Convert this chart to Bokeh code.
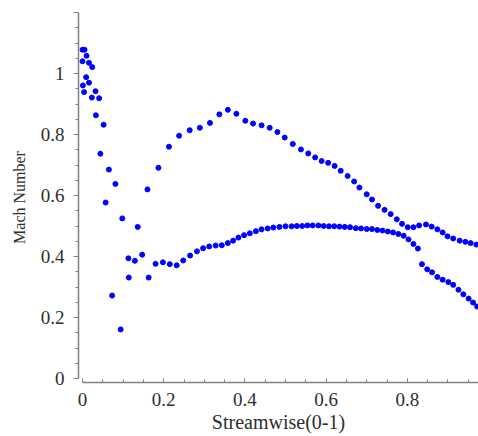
from bokeh.plotting import figure
from bokeh.models import Range1d, FixedTicker
from bokeh.embed import file_html
from bokeh.resources import INLINE

# Blade-surface Mach number along normalised streamwise position
surface_a_x = [0.000, 0.010, 0.016, 0.024, 0.016, 0.032, 0.041, 0.052, 0.065, 0.081,
               0.098, 0.136, 0.160, 0.187, 0.213, 0.238, 0.264, 0.289, 0.314, 0.337,
               0.358, 0.379, 0.401, 0.420, 0.441, 0.461, 0.480, 0.498, 0.518, 0.538,
               0.556, 0.573, 0.589, 0.605, 0.621, 0.636, 0.653, 0.669, 0.682, 0.700,
               0.713, 0.728, 0.744, 0.759, 0.774, 0.787, 0.801, 0.815, 0.829, 0.846,
               0.860, 0.874, 0.887, 0.899, 0.913, 0.929, 0.943, 0.956, 0.970]
surface_a_m = [1.078, 1.058, 1.035, 1.021, 0.970, 0.942, 0.919, 0.832, 0.685, 0.638,
               0.525, 0.497, 0.620, 0.691, 0.760, 0.796, 0.814, 0.822, 0.838, 0.866,
               0.881, 0.868, 0.845, 0.836, 0.830, 0.822, 0.808, 0.790, 0.769, 0.751,
               0.738, 0.725, 0.713, 0.707, 0.697, 0.681, 0.664, 0.646, 0.626, 0.604,
               0.587, 0.566, 0.553, 0.539, 0.522, 0.507, 0.496, 0.496, 0.502, 0.505,
               0.498, 0.489, 0.479, 0.466, 0.459, 0.452, 0.448, 0.444, 0.439]

surface_b_x = [0.005, 0.000, 0.009, 0.001, 0.004, 0.023, 0.033, 0.044, 0.057, 0.073,
               0.094, 0.113, 0.114, 0.129, 0.147, 0.163, 0.180, 0.198, 0.215, 0.232,
               0.248, 0.265, 0.282, 0.297, 0.312, 0.328, 0.343, 0.358, 0.371, 0.384,
               0.398, 0.412, 0.427, 0.441, 0.456, 0.470, 0.485, 0.500, 0.515, 0.528,
               0.541, 0.554, 0.567, 0.581, 0.594, 0.607, 0.620, 0.633, 0.646, 0.659,
               0.673, 0.686, 0.700, 0.713, 0.726, 0.739, 0.752, 0.765, 0.778, 0.791,
               0.803, 0.815, 0.826, 0.836, 0.849, 0.861, 0.874, 0.887, 0.901, 0.913,
               0.926, 0.938, 0.951, 0.962, 0.972]
surface_b_m = [1.078, 1.040, 0.988, 0.961, 0.939, 0.921, 0.863, 0.737, 0.577, 0.272,
               0.161, 0.394, 0.331, 0.386, 0.406, 0.331, 0.376, 0.381, 0.375, 0.371,
               0.387, 0.403, 0.417, 0.427, 0.433, 0.436, 0.437, 0.444, 0.452, 0.462,
               0.470, 0.476, 0.483, 0.489, 0.492, 0.495, 0.497, 0.499, 0.499, 0.500,
               0.500, 0.502, 0.502, 0.502, 0.500, 0.499, 0.499, 0.498, 0.497, 0.496,
               0.493, 0.492, 0.490, 0.490, 0.487, 0.485, 0.482, 0.479, 0.474, 0.468,
               0.456, 0.441, 0.426, 0.375, 0.358, 0.348, 0.333, 0.324, 0.316, 0.307,
               0.291, 0.276, 0.262, 0.249, 0.236]

x_ticks = [0, 0.2, 0.4, 0.6, 0.8]
y_ticks = [0, 0.2, 0.4, 0.6, 0.8, 1.0, 1.2]
x_minor = [i * 0.05 for i in range(20)]
y_minor = [i * 0.05 for i in range(25)]

FONT = "Liberation Serif"
AXIS_GREY = "#808080"
TEXT_COL = "#2e2e2e"

p = figure(width=478, height=436, output_backend="svg", toolbar_location=None,
           x_range=Range1d(-0.00985, 0.9753), y_range=Range1d(-0.0131, 1.2),
           min_border_left=78, min_border_right=0, min_border_top=12,
           min_border_bottom=54)
p.outline_line_color = None
p.xgrid.visible = False
p.ygrid.visible = False
p.background_fill_color = "white"

for xs, ms in ((surface_a_x, surface_a_m), (surface_b_x, surface_b_m)):
    p.scatter(xs, ms, size=5, fill_color="#0000ff", line_color="#0000ff")

# x axis: detached from the y axis, ticks pointing inward
xa = p.xaxis[0]
xa.bounds = (0, 0.9753)
xa.ticker = FixedTicker(ticks=x_ticks, minor_ticks=x_minor)
xa.axis_label = "Streamwise(0-1)"
xa.axis_line_color = AXIS_GREY
xa.axis_line_width = 1.5
xa.major_tick_line_color = AXIS_GREY
xa.minor_tick_line_color = AXIS_GREY
xa.major_tick_in = 4
xa.major_tick_out = 0
xa.minor_tick_in = 3
xa.minor_tick_out = 0
xa.major_label_standoff = 10
xa.major_label_text_font = FONT
xa.major_label_text_font_size = "19px"
xa.major_label_text_color = TEXT_COL
xa.axis_label_text_font = FONT
xa.axis_label_text_font_size = "20px"
xa.axis_label_text_font_style = "normal"
xa.axis_label_text_color = TEXT_COL
xa.axis_label_standoff = 2

# y axis: ends at 0, ticks pointing outward
ya = p.yaxis[0]
ya.bounds = (0, 1.2)
ya.ticker = FixedTicker(ticks=y_ticks, minor_ticks=y_minor)
ya.major_label_overrides = {1.2: ""}
ya.axis_label = "Mach Number"
ya.axis_line_color = AXIS_GREY
ya.axis_line_width = 1.5
ya.major_tick_line_color = AXIS_GREY
ya.minor_tick_line_color = AXIS_GREY
ya.major_tick_in = 0
ya.major_tick_out = 5
ya.minor_tick_in = 0
ya.minor_tick_out = 3
ya.major_label_standoff = 9
ya.major_label_text_font = FONT
ya.major_label_text_font_size = "19px"
ya.major_label_text_color = TEXT_COL
ya.axis_label_text_font = FONT
ya.axis_label_text_font_size = "16px"
ya.axis_label_text_font_style = "normal"
ya.axis_label_text_color = TEXT_COL
ya.axis_label_standoff = 10

open("out.html", "w").write(file_html(p, INLINE))
